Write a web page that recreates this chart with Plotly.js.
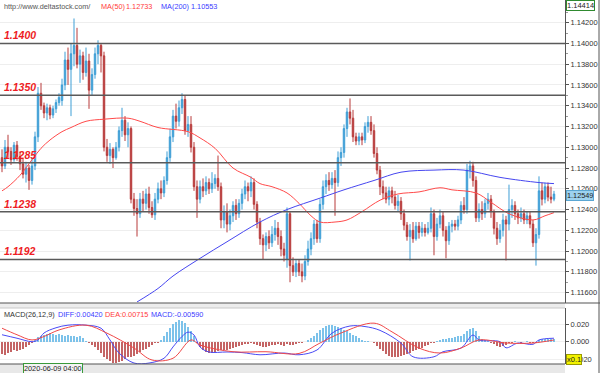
<!DOCTYPE html>
<html><head><meta charset="utf-8">
<script src="https://cdn.plot.ly/plotly-3.0.1.min.js"></script>
<style>html,body{margin:0;padding:0;background:#fff;}#chart{width:600px;height:373px;}</style>
</head><body><div id="chart"></div>
<script>
// ---- price candles (hourly, EUR/USD) ----
const openP = [
1.1290,1.1282,1.1300,1.1296,1.1288,1.1302,1.1291,1.1284,1.1274,1.1280,
1.1268,1.1282,1.1310,1.1352,1.1340,1.1333,1.1338,1.1331,1.1337,1.1343,
1.1345,1.1360,1.1384,1.1375,1.1390,1.1398,1.1380,1.1388,1.1372,1.1383,
1.1355,1.1370,1.1390,1.1398,1.1388,1.1300,1.1292,1.1298,1.1290,1.1300,
1.1316,1.1326,1.1312,1.1318,1.1250,1.1241,1.1236,1.1250,1.1246,1.1255,
1.1242,1.1235,1.1250,1.1260,1.1256,1.1268,1.1290,1.1310,1.1330,1.1325,
1.1338,1.1346,1.1316,1.1322,1.1300,1.1262,1.1250,1.1262,1.1258,1.1266,
1.1260,1.1265,1.1270,1.1262,1.1230,1.1238,1.1226,1.1234,1.1244,1.1236,
1.1246,1.1255,1.1262,1.1258,1.1266,1.1245,1.1228,1.1212,1.1206,1.1214,
1.1208,1.1216,1.1222,1.1214,1.1202,1.1192,1.1236,1.1186,1.1180,1.1188,
1.1180,1.1176,1.1190,1.1202,1.1212,1.1226,1.1212,1.1245,1.1262,1.1268,
1.1264,1.1270,1.1266,1.1290,1.1295,1.1318,1.1334,1.1328,1.1310,1.1306,
1.1310,1.1307,1.1320,1.1324,1.1316,1.1294,1.1278,1.1262,1.1256,1.1250,
1.1258,1.1252,1.1244,1.1248,1.1236,1.1225,1.1214,1.1220,1.1212,1.1224,
1.1218,1.1222,1.1218,1.1222,1.1236,1.1214,1.1226,1.1234,1.1220,1.1210,
1.1224,1.1226,1.1224,1.1230,1.1244,1.1240,1.1278,1.1282,1.1268,1.1232,
1.1240,1.1236,1.1246,1.1250,1.1238,1.1222,1.1212,1.1220,1.1230,1.1226,
1.1240,1.1244,1.1236,1.1232,1.1236,1.1230,1.1234,1.1226,1.1208,1.1216,
1.1258,1.1250,1.1262,1.1252,1.1250];
const highP = [
1.1298,1.1307,1.1312,1.1300,1.1305,1.1306,1.1296,1.1290,1.1286,1.1283,
1.1290,1.1315,1.1358,1.1362,1.1343,1.1342,1.1341,1.1340,1.1346,1.1352,
1.1366,1.1392,1.1396,1.1400,1.1424,1.1415,1.1394,1.1392,1.1396,1.1390,
1.1376,1.1396,1.1403,1.1400,1.1392,1.1308,1.1304,1.1300,1.1305,1.1320,
1.1338,1.1330,1.1324,1.1320,1.1256,1.1250,1.1256,1.1258,1.1260,1.1262,
1.1248,1.1256,1.1266,1.1268,1.1272,1.1296,1.1318,1.1336,1.1342,1.1345,
1.1352,1.1350,1.1330,1.1330,1.1305,1.1268,1.1268,1.1270,1.1272,1.1270,
1.1276,1.1274,1.1292,1.1266,1.1244,1.1246,1.1240,1.1248,1.1250,1.1250,
1.1260,1.1268,1.1266,1.1272,1.1270,1.1248,1.1232,1.1216,1.1218,1.1220,
1.1224,1.1230,1.1228,1.1220,1.1208,1.1242,1.1238,1.1194,1.1192,1.1192,
1.1188,1.1196,1.1210,1.1218,1.1230,1.1230,1.1250,1.1268,1.1274,1.1276,
1.1276,1.1278,1.1296,1.1300,1.1322,1.1338,1.1347,1.1336,1.1314,1.1314,
1.1314,1.1324,1.1330,1.1330,1.1322,1.1300,1.1282,1.1268,1.1262,1.1262,
1.1262,1.1258,1.1254,1.1252,1.1240,1.1228,1.1226,1.1228,1.1228,1.1228,
1.1228,1.1226,1.1228,1.1242,1.1240,1.1232,1.1240,1.1238,1.1224,1.1228,
1.1230,1.1230,1.1234,1.1248,1.1252,1.1284,1.1287,1.1286,1.1272,1.1246,
1.1248,1.1250,1.1256,1.1254,1.1240,1.1228,1.1226,1.1236,1.1234,1.1264,
1.1250,1.1248,1.1240,1.1242,1.1240,1.1238,1.1238,1.1230,1.1222,1.1272,
1.1266,1.1266,1.1266,1.1262,1.1258];
const lowP = [
1.1276,1.1279,1.1290,1.1283,1.1286,1.1287,1.1278,1.1270,1.1266,1.1259,
1.1264,1.1278,1.1305,1.1336,1.1328,1.1326,1.1327,1.1328,1.1333,1.1340,
1.1340,1.1355,1.1360,1.1330,1.1378,1.1376,1.1362,1.1365,1.1368,1.1337,
1.1350,1.1366,1.1380,1.1372,1.1296,1.1286,1.1284,1.1280,1.1288,1.1296,
1.1310,1.1306,1.1300,1.1246,1.1234,1.1214,1.1232,1.1238,1.1240,1.1236,
1.1232,1.1230,1.1246,1.1250,1.1252,1.1264,1.1286,1.1305,1.1318,1.1320,
1.1332,1.1312,1.1310,1.1295,1.1258,1.1232,1.1246,1.1252,1.1254,1.1255,
1.1256,1.1260,1.1258,1.1222,1.1222,1.1218,1.1220,1.1228,1.1230,1.1232,
1.1240,1.1250,1.1248,1.1252,1.1240,1.1222,1.1206,1.1192,1.1200,1.1202,
1.1204,1.1210,1.1206,1.1195,1.1190,1.1184,1.1170,1.1176,1.1175,1.1176,
1.1170,1.1172,1.1186,1.1196,1.1206,1.1208,1.1208,1.1240,1.1255,1.1258,
1.1260,1.1234,1.1262,1.1282,1.1290,1.1310,1.1322,1.1305,1.1302,1.1302,
1.1302,1.1304,1.1314,1.1312,1.1290,1.1274,1.1254,1.1250,1.1246,1.1244,
1.1246,1.1240,1.1238,1.1230,1.1220,1.1210,1.1191,1.1208,1.1210,1.1212,
1.1214,1.1214,1.1216,1.1218,1.1196,1.1210,1.1222,1.1214,1.1193,1.1206,
1.1218,1.1220,1.1220,1.1226,1.1236,1.1236,1.1270,1.1262,1.1228,1.1228,
1.1230,1.1232,1.1240,1.1232,1.1216,1.1206,1.1208,1.1214,1.1191,1.1220,
1.1232,1.1230,1.1226,1.1228,1.1226,1.1226,1.1222,1.1204,1.1186,1.1212,
1.1244,1.1246,1.1248,1.1246,1.1248];
const closeP = [
1.1282,1.1300,1.1296,1.1288,1.1302,1.1291,1.1284,1.1274,1.1280,1.1268,
1.1282,1.1310,1.1352,1.1340,1.1333,1.1338,1.1331,1.1337,1.1343,1.1348,
1.1360,1.1384,1.1375,1.1390,1.1398,1.1380,1.1388,1.1372,1.1383,1.1355,
1.1370,1.1390,1.1398,1.1388,1.1300,1.1292,1.1298,1.1290,1.1300,1.1316,
1.1326,1.1312,1.1318,1.1250,1.1241,1.1236,1.1250,1.1246,1.1255,1.1242,
1.1235,1.1250,1.1260,1.1256,1.1268,1.1290,1.1310,1.1330,1.1325,1.1338,
1.1346,1.1316,1.1322,1.1300,1.1262,1.1250,1.1262,1.1258,1.1266,1.1260,
1.1265,1.1270,1.1262,1.1230,1.1238,1.1226,1.1234,1.1244,1.1236,1.1246,
1.1255,1.1262,1.1258,1.1266,1.1245,1.1228,1.1212,1.1206,1.1214,1.1208,
1.1216,1.1222,1.1214,1.1202,1.1196,1.1236,1.1186,1.1180,1.1188,1.1180,
1.1176,1.1190,1.1202,1.1212,1.1226,1.1212,1.1245,1.1262,1.1268,1.1264,
1.1270,1.1266,1.1290,1.1295,1.1318,1.1334,1.1328,1.1310,1.1306,1.1310,
1.1307,1.1320,1.1324,1.1316,1.1294,1.1278,1.1262,1.1256,1.1250,1.1258,
1.1252,1.1244,1.1248,1.1236,1.1225,1.1214,1.1220,1.1212,1.1224,1.1218,
1.1222,1.1218,1.1222,1.1236,1.1214,1.1226,1.1234,1.1220,1.1210,1.1224,
1.1226,1.1224,1.1230,1.1244,1.1240,1.1278,1.1282,1.1268,1.1232,1.1240,
1.1236,1.1246,1.1250,1.1238,1.1222,1.1212,1.1220,1.1230,1.1226,1.1240,
1.1244,1.1236,1.1232,1.1236,1.1230,1.1234,1.1226,1.1208,1.1216,1.1258,
1.1250,1.1262,1.1252,1.1250,1.12549];

// ---- moving averages (candle index, value) ----
const ma50Idx = [0,2,6,10,13,16,20,23,28,34,42,46,52,62,66,71,77,83,86,90,95,99,103,106,111,115,120,126,132,139,146,150,158,163,169,177,181,184];
const ma50Val = [1.1258,1.1262,1.1273,1.1288,1.1299,1.1307,1.1315,1.1319,1.1325,1.1327,1.1328,1.1325,1.1319,1.1315,1.1309,1.1299,1.1280,1.1271,1.1265,1.1262,1.1256,1.1246,1.1234,1.1228,1.1228,1.1230,1.1238,1.1249,1.1255,1.1257,1.1261,1.1259,1.1256,1.1247,1.1236,1.1230,1.1234,1.1237];
const ma200Idx = [45,52,57,66,75,86,95,106,114,124,133,144,154,166,179,184];
const ma200Val = [1.1151,1.1164,1.1176,1.1193,1.1209,1.1228,1.1240,1.1251,1.1259,1.1268,1.1276,1.1278,1.1278,1.1271,1.1266,1.1265];

// ---- MACD pane (axis units, x0.1) ----
const macdHist = [
-0.014,-0.015,-0.013,-0.012,-0.010,-0.011,-0.009,-0.008,-0.006,-0.004,
-0.002,0.002,0.005,0.007,0.008,0.009,0.010,0.009,0.008,0.009,
0.008,0.007,0.008,0.007,0.006,0.005,0.006,0.004,0.001,-0.002,
-0.004,-0.006,-0.009,-0.013,-0.017,-0.020,-0.022,-0.024,-0.024,-0.023,
-0.022,-0.020,-0.018,-0.017,-0.016,-0.014,-0.012,-0.010,-0.008,-0.006,
-0.004,-0.002,-0.001,0.002,0.006,0.011,0.016,0.020,0.023,0.025,
0.024,0.021,0.017,0.012,0.006,-0.002,-0.006,-0.010,-0.012,-0.013,
-0.013,-0.012,-0.011,-0.010,-0.010,-0.009,-0.008,-0.007,-0.006,-0.005,
-0.004,-0.003,-0.003,-0.002,-0.003,-0.004,-0.005,-0.006,-0.006,-0.005,
-0.004,-0.004,-0.003,-0.004,-0.005,-0.003,-0.004,-0.004,-0.003,-0.002,
-0.001,0.000,0.002,0.004,0.007,0.010,0.013,0.016,0.018,0.019,
0.019,0.018,0.017,0.016,0.014,0.012,0.010,0.008,0.006,0.004,
0.002,0.001,0.001,0.000,-0.002,-0.005,-0.008,-0.011,-0.014,-0.016,
-0.018,-0.018,-0.017,-0.016,-0.015,-0.014,-0.013,-0.011,-0.010,-0.008,
-0.007,-0.005,-0.004,-0.002,-0.001,0.001,0.002,0.003,0.003,0.004,
0.004,0.005,0.006,0.007,0.009,0.012,0.015,0.016,0.012,0.006,
0.003,0.002,0.001,-0.001,-0.003,-0.005,-0.006,-0.005,-0.004,-0.002,
-0.001,0.001,0.000,-0.001,0.000,0.001,-0.001,-0.002,-0.001,0.002,
0.003,0.003,0.003,0.003,0.003];
const diffIdx = [0,5,10,12,14,18,22,28,33,36,39,44,49,54,57,60,62,64,66,69,75,80,86,94,99,105,110,116,121,126,133,137,144,147,153,157,159,166,168,172,177,179,184];
const diffVal = [0.008,0.004,0.000,0.002,0.010,0.016,0.019,0.019,0.0155,0.002,-0.013,-0.0245,-0.0245,-0.019,-0.006,0.006,0.011,0.0077,-0.006,-0.0118,-0.0118,-0.0125,-0.015,-0.013,-0.015,-0.0095,0.0098,0.018,0.0174,0.013,-0.0016,-0.0173,-0.0173,-0.0115,-0.0073,0.0077,0.002,0.000,-0.007,-0.0015,-0.003,0.002,0.004];
const deaIdx = [0,5,10,14,19,28,35,44,50,57,63,66,77,88,99,106,113,124,130,139,146,153,159,168,177,184];
const deaVal = [0.0155,0.008,0.002,0.006,0.0135,0.019,0.0098,-0.0073,-0.021,-0.019,0.002,-0.0038,-0.0115,-0.0115,-0.0135,-0.0015,0.010,0.0213,0.0113,-0.0073,-0.013,-0.0073,0.002,-0.0015,-0.0015,0.002];

// ---- levels & ticks ----
const levels = [1.1400, 1.1350, 1.1285, 1.1238, 1.1192];
const priceTicks = [1.116,1.118,1.120,1.122,1.124,1.126,1.128,1.130,1.132,1.134,1.136,1.138,1.140,1.142];
const macdTicks = [-0.02, 0, 0.02];
const lastPrice = 1.12549, topPrice = 1.14414;
const headerTexts = ["http://www.deltastock.com/", "MA(50)", "1.12733", "MA(200)", "1.10553"];
const macdTexts = ["MACD(26,12,9)", "DIFF:0.00420", "DEA:0.00715", "MACD:-0.00590"];
const dateLabel = "2020-06-09 04:00";

const idx = openP.map((_, i) => i);
const PW = 565, PH = 364;
const px = x => x / PW, py = y => (PH - y) / PH;
const FS = 7.3, FF = 'Liberation Sans';

const BLUE = '#3f9fd6', RED = '#b83b3b';
const traces = [
  {type:'candlestick', x: idx, open: openP, high: highP, low: lowP, close: closeP,
   increasing:{line:{color:BLUE, width:1}, fillcolor:BLUE},
   decreasing:{line:{color:RED, width:1}, fillcolor:RED},
   whiskerwidth:0, xaxis:'x', yaxis:'y', hoverinfo:'skip'},
  {type:'scatter', mode:'lines', x: ma50Idx, y: ma50Val, line:{color:'#ff4a4a', width:1, shape:'spline'}, yaxis:'y'},
  {type:'scatter', mode:'lines', x: ma200Idx, y: ma200Val, line:{color:'#4646f0', width:1, shape:'spline'}, yaxis:'y'},
  {type:'bar', x: idx, y: macdHist, width:0.42,
   marker:{color: macdHist.map(v => v >= 0 ? '#7cc2ea' : '#c46464'), line:{width:0}}, yaxis:'y2'},
  {type:'scatter', mode:'lines', x: diffIdx, y: diffVal, line:{color:'#4a4af5', width:1, shape:'spline'}, yaxis:'y2'},
  {type:'scatter', mode:'lines', x: deaIdx, y: deaVal, line:{color:'#f04848', width:1, shape:'spline'}, yaxis:'y2'}
];

const shapes = [];
levels.forEach(l => shapes.push({type:'line', xref:'paper', yref:'y', x0:0, x1:1, y0:l, y1:l,
  line:{color:'#5a5a5a', width:1.5}, layer:'above'}));
shapes.push({type:'rect', xref:'paper', yref:'paper', x0:0, x1:1, y0:py(308), y1:py(303), fillcolor:'#ececec', line:{width:0}, layer:'above'});
shapes.push({type:'line', xref:'paper', yref:'paper', x0:0, x1:px(600), y0:py(303), y1:py(303), line:{color:'#555', width:1.2}});
shapes.push({type:'line', xref:'paper', yref:'paper', x0:0, x1:1, y0:py(308), y1:py(308), line:{color:'#c8c8c8', width:1}});
shapes.push({type:'rect', xref:'paper', yref:'paper', x0:0, x1:1, y0:py(373), y1:py(364), fillcolor:'#e8e8e8', line:{width:0}});
shapes.push({type:'line', xref:'paper', yref:'paper', x0:0, x1:1, y0:py(364), y1:py(364), line:{color:'#555', width:1.2}});
shapes.push({type:'line', xref:'paper', yref:'paper', x0:px(599), x1:px(599), y0:py(373), y1:1, line:{color:'#555', width:1}});

const annotations = [];
const hdrX = [3, 100, 125, 160, 190], hdrC = ['#555', '#ff3b3b', '#ff3b3b', '#3b3bff', '#3b3bff'];
headerTexts.forEach((t, k) => annotations.push({xref:'paper', yref:'paper', x:px(hdrX[k]), y:py(6), xanchor:'left', yanchor:'middle',
  text:t, showarrow:false, borderpad:0, font:{family:FF, size:FS, color:hdrC[k]}}));
const mX = [3, 57, 104, 150], mC = ['#333', '#3b3bff', '#ff3b3b', '#3b3bff'];
macdTexts.forEach((t, k) => annotations.push({xref:'paper', yref:'paper', x:px(mX[k]), y:py(314), xanchor:'left', yanchor:'middle',
  text:t, showarrow:false, borderpad:0, font:{family:FF, size:FS, color:mC[k]}}));
levels.forEach(l => annotations.push({xref:'paper', yref:'y', x:px(2), y:l, xanchor:'left', yanchor:'bottom', yshift:0,
  text:'<b><i>' + l.toFixed(4) + '</i></b>', showarrow:false, font:{family:FF, size:10.5, color:'#ee1c24'}}));
annotations.push({xref:'paper', yref:'paper', x:1, y:1, xanchor:'left', yanchor:'top', xshift:1,
  text:topPrice.toFixed(5), showarrow:false, bgcolor:'#ffffff', bordercolor:'#2f8a2f', borderwidth:1, borderpad:0,
  font:{family:FF, size:7.5, color:'#222'}});
annotations.push({xref:'paper', yref:'y', x:1, y:lastPrice, xanchor:'left', yanchor:'middle', xshift:1, yshift:-1,
  text:lastPrice.toFixed(5), showarrow:false, bgcolor:'#9dd2ef', bordercolor:'#5aa6d2', borderwidth:1, borderpad:0,
  font:{family:FF, size:7.3, color:'#222'}});
annotations.push({xref:'paper', yref:'paper', x:1, y:py(359), xanchor:'left', yanchor:'middle', xshift:1,
  text:'x0.1', showarrow:false, bgcolor:'#f2f200', bordercolor:'#9a9a00', borderwidth:1, borderpad:0,
  font:{family:FF, size:7.5, color:'#222'}});
annotations.push({xref:'paper', yref:'paper', x:px(23), y:py(368.5), xanchor:'left', yanchor:'middle',
  text:dateLabel, showarrow:false, bgcolor:'#f4f4f4', bordercolor:'#3a9a3a', borderwidth:1, borderpad:0,
  font:{family:FF, size:FS, color:'#222'}});

const layout = {
  width:600, height:373, margin:{l:0, r:35, t:0, b:9},
  paper_bgcolor:'#ffffff', plot_bgcolor:'#ffffff', showlegend:false, hovermode:false, bargap:0,
  xaxis:{range:[-0.67, 187.67], visible:false, rangeslider:{visible:false}, fixedrange:true},
  yaxis:{domain:[py(302.5), 1], range:[1.11505, 1.14418], side:'right', tickmode:'array',
    tickvals:priceTicks, ticktext:priceTicks.map(v => v.toFixed(5)),
    showgrid:true, gridcolor:'#eeeeee', zeroline:false, showline:true, linecolor:'#555', linewidth:1,
    ticks:'outside', ticklen:3, tickcolor:'#555',
    minor:{tickmode:'linear', tick0:1.115, dtick:0.001, ticks:'outside', ticklen:2, tickcolor:'#999', showgrid:false},
    tickfont:{family:FF, size:7.5, color:'#333'}},
  yaxis2:{domain:[0, py(308)], range:[-0.0256, 0.0387], side:'right', anchor:'x', tickmode:'array',
    tickvals:macdTicks, ticktext:macdTicks.map(v => v.toFixed(3)),
    showgrid:true, gridcolor:'#f0f0f0', zeroline:false, showline:true, linecolor:'#555', linewidth:1,
    ticks:'outside', ticklen:3, tickcolor:'#555',
    tickfont:{family:FF, size:7.5, color:'#333'}},
  shapes: shapes, annotations: annotations
};
Plotly.newPlot('chart', traces, layout, {staticPlot:true, displayModeBar:false});
</script></body></html>
